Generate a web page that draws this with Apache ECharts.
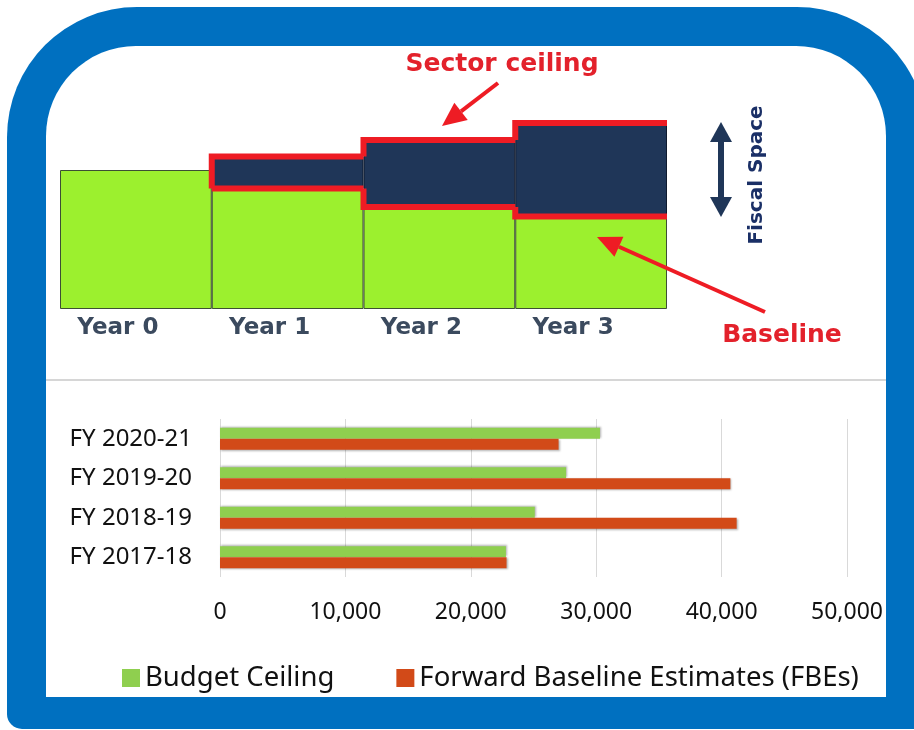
<!DOCTYPE html>
<html>
<head>
<meta charset="utf-8">
<script src="https://cdn.jsdelivr.net/npm/echarts@6/dist/echarts.min.js"></script>
<style>
  html, body { margin: 0; padding: 0; background: #fff; }
  #chart { width: 914px; height: 730px; }
</style>
</head>
<body>
<div id="chart"></div>
<script>
// top diagram (relative units)
const years = ['Year 0', 'Year 1', 'Year 2', 'Year 3']
const baseline = [69.5, 60.25, 51, 46.25]
const ceiling = [null, 76.25, 84.5, 93]

// bottom bar chart
const fyYears = ['FY 2017-18', 'FY 2018-19', 'FY 2019-20', 'FY 2020-21']
const budgetCeiling = [22800, 25100, 27600, 30300]
const fbes = [22850, 41200, 40700, 27000]
const xTicks = [0, 10000, 20000, 30000, 40000, 50000]

const fiscal = baseline.map((b, i) => ceiling[i] == null ? null : ceiling[i] - b)
const outline = []
ceiling.forEach((c, i) => { if (c != null) outline.push([i, baseline[i], c]) })

const chart = echarts.init(document.getElementById('chart'))

const arrow = (x1, y1, x2, y2, color, lw, head, hw) => {
  const dx = x2 - x1, dy = y2 - y1
  const len = Math.sqrt(dx * dx + dy * dy)
  const ux = dx / len, uy = dy / len
  const bx = x2 - ux * head, by = y2 - uy * head
  return [
    { type: 'line', z: 100, shape: { x1: x1, y1: y1, x2: bx, y2: by }, style: { stroke: color, lineWidth: lw } },
    { type: 'polygon', z: 100, shape: { points: [[x2, y2], [bx - uy * hw, by + ux * hw], [bx + uy * hw, by - ux * hw]] }, style: { fill: color } }
  ]
}

const navy = '#1f3658'
const red = '#ee1c24'

chart.setOption({
  backgroundColor: '#ffffff',
  animation: false,
  graphic: [
    { type: 'rect', z: -10, shape: { x: 7, y: 7, width: 920, height: 722, r: [130, 130, 15, 15] }, style: { fill: '#0070c0' } },
    { type: 'rect', z: -9, shape: { x: 46, y: 46, width: 840, height: 651, r: [90, 90, 0, 0] }, style: { fill: '#ffffff' } },
    { type: 'line', z: -8, shape: { x1: 46, y1: 380, x2: 886, y2: 380 }, style: { stroke: '#d6d6d6', lineWidth: 2 } },
    { type: 'text', z: 100, x: 502, y: 64, style: { text: 'Sector ceiling', fill: '#e3212b', font: 'bold 25px "DejaVu Sans"', align: 'center', verticalAlign: 'middle' } },
    { type: 'text', z: 100, x: 782, y: 335, style: { text: 'Baseline', fill: '#e3212b', font: 'bold 25px "DejaVu Sans"', align: 'center', verticalAlign: 'middle' } },
    { type: 'text', z: 100, x: 757, y: 175, rotation: Math.PI / 2, style: { text: 'Fiscal Space', fill: '#1a2f66', font: 'bold 20px "DejaVu Sans"', align: 'center', verticalAlign: 'middle' } },
    { type: 'rect', z: 100, shape: { x: 718, y: 140, width: 6, height: 60 }, style: { fill: navy } },
    { type: 'polygon', z: 100, shape: { points: [[721, 122], [710, 142], [732, 142]] }, style: { fill: navy } },
    { type: 'polygon', z: 100, shape: { points: [[721, 217], [710, 197], [732, 197]] }, style: { fill: navy } },
    ...arrow(498, 83, 442, 126, red, 4, 24, 11),
    ...arrow(765, 312, 597, 237, red, 4, 24, 11)
  ],
  legend: {
    data: ['Budget Ceiling', 'Forward Baseline Estimates (FBEs)'],
    left: 117,
    top: 659,
    icon: 'rect',
    itemWidth: 18,
    itemHeight: 18,
    itemGap: 62,
    textStyle: { fontFamily: 'Noto Sans', fontSize: 27.5, color: '#111' }
  },
  grid: [
    { left: 60, right: 247, top: 109, bottom: 421 },
    { left: 220, right: 67, top: 419, bottom: 153 }
  ],
  xAxis: [
    {
      gridIndex: 0,
      type: 'category',
      data: years,
      axisLine: { show: false },
      axisTick: { show: false },
      axisLabel: {
        margin: 8,
        padding: [0, 36, 0, 0],
        fontFamily: 'DejaVu Sans',
        fontWeight: 'bold',
        fontSize: 23,
        color: '#3b4a5e'
      }
    },
    {
      gridIndex: 1,
      type: 'value',
      min: xTicks[0],
      max: xTicks[xTicks.length - 1],
      interval: 10000,
      axisLine: { show: false },
      axisTick: { show: false },
      splitLine: { lineStyle: { color: '#d9d9d9', width: 1 } },
      axisLabel: {
        margin: 24,
        fontFamily: 'Noto Sans',
        fontSize: 23,
        color: '#111',
        formatter: v => v.toLocaleString('en-US')
      }
    }
  ],
  yAxis: [
    { gridIndex: 0, type: 'value', min: 0, max: 100, show: false },
    {
      gridIndex: 1,
      type: 'category',
      data: fyYears,
      axisLine: { show: false },
      axisTick: { show: false },
      axisLabel: { margin: 28, fontFamily: 'Noto Sans', fontSize: 24, color: '#111' }
    }
  ],
  series: [
    {
      name: 'baseline',
      type: 'bar',
      xAxisIndex: 0,
      yAxisIndex: 0,
      stack: 'top',
      barWidth: '100%',
      data: baseline,
      itemStyle: { color: '#9cf02e', borderColor: '#3d4f34', borderWidth: 1 }
    },
    {
      name: 'fiscal space',
      type: 'bar',
      xAxisIndex: 0,
      yAxisIndex: 0,
      stack: 'top',
      barWidth: '100%',
      data: fiscal,
      itemStyle: { color: navy, borderColor: '#0f1a2e', borderWidth: 1 }
    },
    {
      name: 'outline',
      type: 'custom',
      xAxisIndex: 0,
      yAxisIndex: 0,
      z: 5,
      data: outline,
      renderItem: (params, api) => {
        const i = api.value(0)
        const top = api.coord([i, api.value(2)])
        const bot = api.coord([i, api.value(1)])
        const w = api.size([1, 0])[0]
        const x0 = top[0] - w / 2, x1 = top[0] + w / 2
        let prevTop = bot[1], prevBot = bot[1]
        if (ceiling[i - 1] != null) {
          prevTop = api.coord([i - 1, ceiling[i - 1]])[1]
          prevBot = api.coord([i - 1, baseline[i - 1]])[1]
        }
        const st = { stroke: red, lineWidth: 6, fill: null, lineJoin: 'miter' }
        return {
          type: 'group',
          children: [
            { type: 'polyline', shape: { points: [[x0, prevTop], [x0, top[1]], [x1, top[1]]] }, style: st },
            { type: 'polyline', shape: { points: [[x0, prevBot], [x0, bot[1]], [x1, bot[1]]] }, style: st }
          ]
        }
      }
    },
    {
      name: 'Budget Ceiling',
      type: 'bar',
      xAxisIndex: 1,
      yAxisIndex: 1,
      barWidth: 11,
      barGap: '0%',
      data: budgetCeiling,
      itemStyle: { color: '#8fcf4f', shadowColor: 'rgba(0,0,0,0.3)', shadowBlur: 2, shadowOffsetX: 1, shadowOffsetY: -1 }
    },
    {
      name: 'Forward Baseline Estimates (FBEs)',
      type: 'bar',
      xAxisIndex: 1,
      yAxisIndex: 1,
      barWidth: 11,
      barGap: '0%',
      data: fbes,
      itemStyle: { color: '#d24a18', shadowColor: 'rgba(0,0,0,0.3)', shadowBlur: 2, shadowOffsetX: 1, shadowOffsetY: 1 }
    }
  ]
})
</script>
</body>
</html>
